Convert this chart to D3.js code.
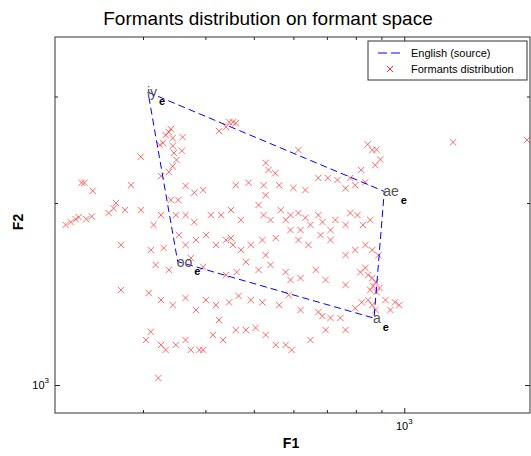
<!DOCTYPE html>
<html>
<head>
<meta charset="utf-8">
<script src="https://cdn.jsdelivr.net/npm/d3@7"></script>
<style>
body { margin: 0; background: white; }
text { font-family: "Liberation Sans", Arial, sans-serif; }
</style>
</head>
<body>
<div id="chart"></div>
<script>

// vowel targets (English source)
var vowelNames = ["iy", "ae", "a", "oo"]
var vowelF1 = [307, 912, 870, 352]
var vowelF2 = [3050, 2090, 1290, 1600]

// formants distribution (F1, F2 pairs)
var pointsF1 = [341, 338, 333, 344, 360, 329, 324, 344, 359, 346, 297, 350, 344, 338, 326,
  426, 440, 446, 454, 460, 528, 535, 552, 614, 1252, 1760, 863, 845, 880, 875, 895, 820,
  673, 703, 735, 780, 836, 763, 798, 634, 600, 562, 523, 488, 460, 396, 380, 365, 353, 341, 528,
  297, 315, 326, 349, 365, 380, 410, 430, 450, 471, 511, 523, 540, 566, 579, 592, 614, 634, 649,
  673, 686, 712, 728, 763, 780, 806, 827, 855,
  210, 215, 220, 223, 231, 237, 226, 229, 238, 256, 262, 265, 276, 284,
  311, 330, 354, 365, 383, 401, 420, 440, 450, 454, 471, 493, 520, 528, 553, 592, 614, 620, 643,
  680, 712, 763, 798, 836, 863, 888, 271,
  318, 338, 374, 396, 440, 462, 482, 511, 540, 579, 592, 620, 665, 696, 763, 817, 836, 847, 863,
  876, 867, 855, 880, 892,
  271, 308, 326, 344, 365, 383, 401, 420, 446, 466, 493, 520, 562, 587, 620, 673, 686, 712, 745,
  798, 822, 847, 863, 876, 917, 958, 977, 938,
  304, 311, 326, 333, 349, 365, 374, 389, 396, 414, 426, 434, 460, 482, 504, 528, 553, 579, 595,
  649, 696, 763, 322]
var pointsF2 = [2650, 2620, 2590, 2560, 2570, 2515, 2495, 2485, 2440, 2420, 2385, 2356, 2300, 2250, 2215,
  2630, 2670, 2720, 2720, 2710, 2330, 2268, 2240, 2447, 2520, 2542, 2447, 2500, 2450, 2310, 2360, 2268,
  2200, 2200, 2183, 2200, 2165, 2115, 2140, 2101, 2118, 2140, 2140, 2160, 2140, 2101, 2080, 2135, 2023, 2023, 2060,
  1947, 1840, 1910, 1910, 1910, 1860, 1910, 1910, 1947, 1875, 1985, 1910, 1875, 1947, 1875, 1910, 1925, 1890, 1840,
  1910, 1860, 1804, 1875, 1840, 1925, 1910, 1840, 1875,
  1840, 1860, 1880, 1895, 1880, 1900, 2160, 2160, 2095, 1925, 1960, 2000, 1947, 2140,
  1672, 1685, 1770, 1705, 1737, 1770, 1705, 1737, 1750, 1705, 1672, 1705, 1737, 1640, 1750, 1804, 1737, 1804, 1705,
  1770, 1737, 1640, 1672, 1705, 1672, 1640, 1705,
  1580, 1550, 1622, 1568, 1520, 1537, 1598, 1550, 1580, 1537, 1492, 1503, 1550, 1492, 1464, 1537, 1562, 1520, 1503,
  1480, 1458, 1436, 1425, 1447,
  1436, 1420, 1382, 1356, 1393, 1331, 1382, 1356, 1370, 1404, 1382, 1370, 1356, 1409, 1331, 1320, 1300, 1291, 1291,
  1340, 1370, 1382, 1356, 1331, 1382, 1370, 1356, 1331,
  1187, 1225, 1165, 1143, 1165, 1187, 1143, 1143, 1143, 1210, 1281, 1187, 1233, 1233, 1243, 1210, 1165, 1165, 1143,
  1187, 1233, 1233, 1027]

// tick values
var xMinor = [300, 400, 500, 600, 700, 800, 900]
var yMinor = [2000, 3000]
var majorTick = [1000]

var legendLabels = ["English (source)", "Formants distribution"]

var width = 531, height = 456
var plot = {left: 55, right: 530, top: 37, bottom: 413}

var svg = d3.select("#chart")
  .append("svg")
  .attr("width", width)
  .attr("height", height)

// log scales on both axes
var x = d3.scaleLog()
  .domain([200, 1785])
  .range([plot.left, plot.right])
var y = d3.scaleLog()
  .domain([899, 3763])
  .range([plot.bottom, plot.top])

// title
svg.append("text")
  .attr("x", 268)
  .attr("y", 25)
  .attr("text-anchor", "middle")
  .style("font-size", "19px")
  .text("Formants distribution on formant space")

// axes box
svg.append("rect")
  .attr("x", plot.left)
  .attr("y", plot.top)
  .attr("width", plot.right - plot.left)
  .attr("height", plot.bottom - plot.top)
  .attr("fill", "none")
  .attr("stroke", "#333")

// ticks pointing inwards on all four sides
function tickRow(axisFn, scale, vals, size, tr) {
  var g = svg.append("g")
    .attr("transform", tr)
    .call(axisFn(scale).tickValues(vals).tickSize(size).tickFormat(""))
  g.select(".domain").remove()
  g.selectAll("line").attr("stroke", "#222")
}
tickRow(d3.axisBottom, x, xMinor, -3, "translate(0," + plot.bottom + ")")
tickRow(d3.axisBottom, x, majorTick, -5, "translate(0," + plot.bottom + ")")
tickRow(d3.axisTop, x, xMinor, -3, "translate(0," + plot.top + ")")
tickRow(d3.axisTop, x, majorTick, -5, "translate(0," + plot.top + ")")
tickRow(d3.axisLeft, y, yMinor, -3, "translate(" + plot.left + ",0)")
tickRow(d3.axisLeft, y, majorTick, -5, "translate(" + plot.left + ",0)")
tickRow(d3.axisRight, y, yMinor, -3, "translate(" + plot.right + ",0)")
tickRow(d3.axisRight, y, majorTick, -5, "translate(" + plot.right + ",0)")

// 10^3 labels
var xl = svg.append("text")
  .attr("x", x(1000))
  .attr("y", 430)
  .attr("text-anchor", "middle")
  .style("font-size", "11px")
xl.append("tspan").text("10")
xl.append("tspan").attr("dy", -6).style("font-size", "8px").text("3")

var yl = svg.append("text")
  .attr("x", 49)
  .attr("y", y(1000) + 4)
  .attr("text-anchor", "end")
  .style("font-size", "11px")
yl.append("tspan").text("10")
yl.append("tspan").attr("dy", -6).style("font-size", "8px").text("3")

// axis labels
svg.append("text")
  .attr("x", 291)
  .attr("y", 448)
  .attr("text-anchor", "middle")
  .style("font-size", "14px")
  .style("font-weight", "bold")
  .text("F1")
svg.append("text")
  .attr("transform", "translate(23,222) rotate(-90)")
  .attr("text-anchor", "middle")
  .style("font-size", "14px")
  .style("font-weight", "bold")
  .text("F2")

// scatter of formants
var pts = pointsF1.map(function(d, i) { return {f1: d, f2: pointsF2[i]} })
var cross = d3.symbol().type(d3.symbolX).size(28)
svg.append("g")
  .selectAll("path")
  .data(pts)
  .enter()
  .append("path")
  .attr("d", cross)
  .attr("transform", function(d) { return "translate(" + x(d.f1) + "," + y(d.f2) + ")" })
  .attr("fill", "none")
  .attr("stroke", "#ff2a2a")
  .attr("stroke-opacity", 0.7)
  .attr("stroke-width", 1)

// vowel polygon
var vowels = vowelNames.map(function(d, i) { return {name: d, f1: vowelF1[i], f2: vowelF2[i]} })
var line = d3.line()
  .x(function(d) { return x(d.f1) })
  .y(function(d) { return y(d.f2) })
svg.append("path")
  .datum(vowels.concat([vowels[0]]))
  .attr("d", line)
  .attr("fill", "none")
  .attr("stroke", "#0000ff")
  .attr("stroke-width", 1)
  .attr("stroke-dasharray", "7,4")

var vl = svg.append("g")
  .selectAll("g")
  .data(vowels)
  .enter()
  .append("g")
  .attr("transform", function(d) { return "translate(" + x(d.f1) + "," + y(d.f2) + ")" })
var names = vl.append("text")
  .attr("x", -1)
  .attr("y", 5)
  .style("font-size", "14px")
  .attr("fill", "#555")
  .text(function(d) { return d.name })
vl.append("text")
  .attr("x", function(d, i) { return names.nodes()[i].getComputedTextLength() + 1 })
  .attr("y", 13)
  .style("font-size", "11px")
  .style("font-weight", "bold")
  .text("e")

// legend
var lg = svg.append("g")
lg.append("rect")
  .attr("x", 368)
  .attr("y", 41)
  .attr("width", 159)
  .attr("height", 39)
  .attr("fill", "white")
  .attr("stroke", "#333")
lg.append("line")
  .attr("x1", 378).attr("x2", 403)
  .attr("y1", 53).attr("y2", 53)
  .attr("stroke", "#0000ff")
  .attr("stroke-dasharray", "9,4")
lg.append("path")
  .attr("d", cross)
  .attr("transform", "translate(390,69)")
  .attr("fill", "none")
  .attr("stroke", "#ff2a2a")
lg.selectAll(".lt")
  .data(legendLabels)
  .enter()
  .append("text")
  .attr("x", 411)
  .attr("y", function(d, i) { return 57 + i * 16 })
  .style("font-size", "11px")
  .text(function(d) { return d })

</script>
</body>
</html>
